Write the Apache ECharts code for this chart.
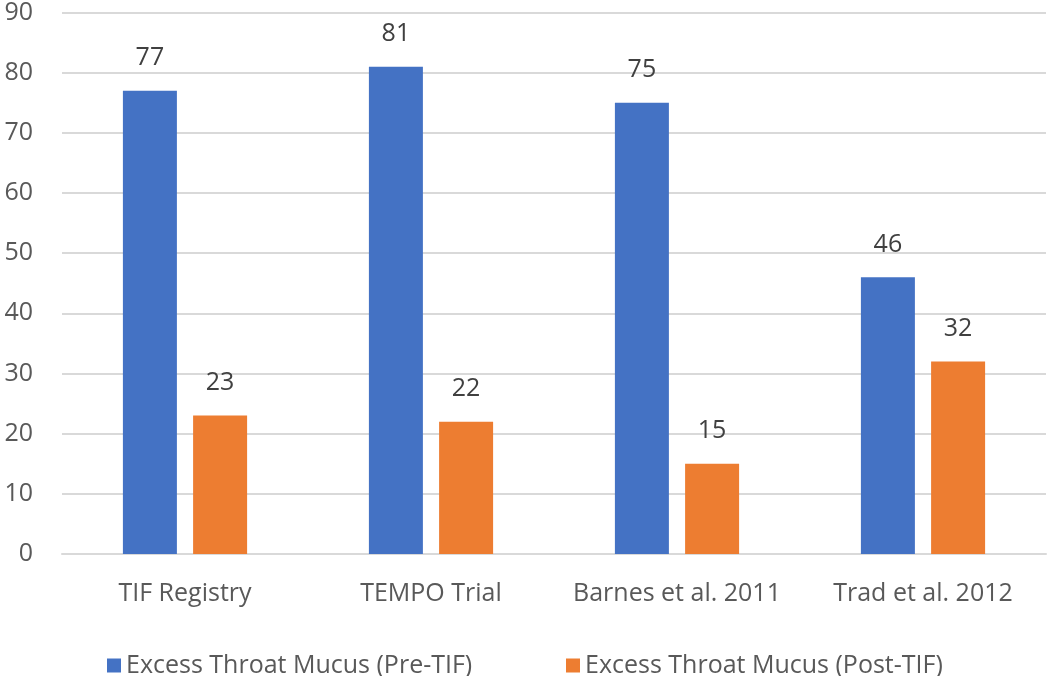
<!DOCTYPE html>
<html>
<head>
<meta charset="utf-8">
<script src="https://cdn.jsdelivr.net/npm/echarts@6/dist/echarts.min.js"></script>
<style>
  html, body { margin: 0; padding: 0; background: #fff; }
  #chart { width: 1050px; height: 676px; }
</style>
</head>
<body>
<div id="chart"></div>
<script>
const categories = ['TIF Registry', 'TEMPO Trial', 'Barnes et al. 2011', 'Trad et al. 2012'];
const preTif = [77, 81, 75, 46];
const postTif = [23, 22, 15, 32];
const seriesNames = ['Excess Throat Mucus (Pre-TIF)', 'Excess Throat Mucus (Post-TIF)'];

const chart = echarts.init(document.getElementById('chart'));

const FONT = 'Open Sans, sans-serif';

const labelStyle = {
  show: true,
  position: 'top',
  distance: 20,
  color: '#404040',
  fontSize: 25,
  fontFamily: FONT
};

const legendText = { color: '#595959', fontSize: 25, fontFamily: FONT };

const option = {
  animation: false,
  grid: { left: 62, right: 4, top: 12, bottom: 122 },
  legend: [
    {
      top: 648,
      left: 102,
      itemWidth: 14,
      itemHeight: 14,
      icon: 'rect',
      textStyle: legendText,
      data: [seriesNames[0]]
    },
    {
      top: 648,
      left: 561,
      itemWidth: 14,
      itemHeight: 14,
      icon: 'rect',
      textStyle: legendText,
      data: [seriesNames[1]]
    }
  ],
  xAxis: {
    type: 'category',
    data: categories,
    axisLine: { lineStyle: { color: '#d9d9d9', width: 2 } },
    axisTick: { show: false },
    axisLabel: { color: '#595959', fontSize: 25, margin: 27, interval: 0, hideOverlap: false, fontFamily: FONT }
  },
  yAxis: {
    type: 'value',
    min: 0,
    max: 90,
    interval: 10,
    axisLine: { show: false },
    axisTick: { show: false },
    axisLabel: { color: '#595959', fontSize: 25, margin: 29, fontFamily: FONT },
    splitLine: { lineStyle: { color: '#d9d9d9', width: 2 } }
  },
  series: [
    {
      name: seriesNames[0],
      type: 'bar',
      data: preTif,
      barWidth: 54,
      barGap: '30%',
      itemStyle: { color: '#4472C4' },
      label: labelStyle
    },
    {
      name: seriesNames[1],
      type: 'bar',
      data: postTif,
      barWidth: 54,
      itemStyle: { color: '#ED7D31' },
      label: labelStyle
    }
  ]
};

chart.setOption(option);
</script>
</body>
</html>
